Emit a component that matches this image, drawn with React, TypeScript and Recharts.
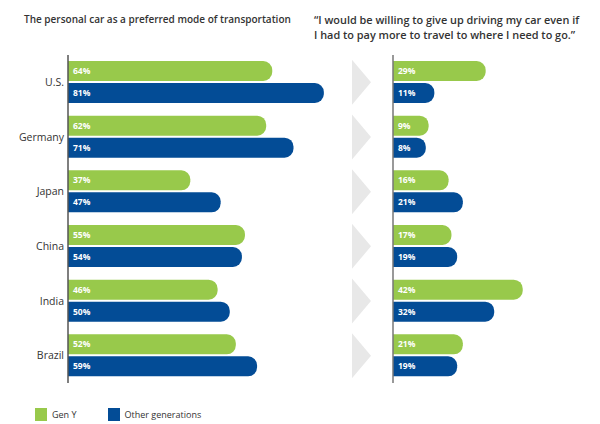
import React from 'react';
import { BarChart, Bar, XAxis, YAxis, LabelList } from 'recharts';

const countries = ['U.S.', 'Germany', 'Japan', 'China', 'India', 'Brazil'];
const preferGenY = [64, 62, 37, 55, 46, 52];
const preferOther = [81, 71, 47, 54, 50, 59];
const giveUpGenY = [29, 9, 16, 17, 42, 21];
const giveUpOther = [11, 8, 21, 19, 32, 19];

const GREEN = '#98c94b';
const BLUE = '#034c96';
const TEXT = '#333333';
const FONT = '"Open Sans", sans-serif';

const leftData = countries.map((c, i) => ({ country: c, genY: preferGenY[i], other: preferOther[i] }));
const rightData = countries.map((c, i) => ({ country: c, genY: giveUpGenY[i], other: giveUpOther[i] }));

// bar with rounded right end, drawn from the axis line
const RoundBar = (props: any) => {
  const { x, y, width, height, fill, background } = props;
  const x0 = background && background.x != null ? background.x : x;
  const x1 = x + width;
  const r = Math.min(9, height / 2, Math.max(0, x1 - x0));
  const d = `M${x0},${y} H${x1 - r} A${r},${r} 0 0 1 ${x1},${y + r} V${y + height - r} A${r},${r} 0 0 1 ${x1 - r},${y + height} H${x0} Z`;
  return <path d={d} fill={fill} />;
};

// grey arrow between the two panels, one per country
const Chevron = (props: any) => {
  const { x, y } = props;
  return <polygon points={`${x - 41},${y - 22.5} ${x - 22},${y} ${x - 41},${y + 22.5}`} fill="#e8e8e8" />;
};

const labelStyle = { fill: '#ffffff', fontSize: 8.5, fontWeight: 700, fontFamily: FONT };
const pct = (v: any) => `${v}%`;

export default function App() {
  return (
    <div style={{ position: 'absolute', left: 0, top: 0, width: 600, height: 424, background: '#fff', overflow: 'hidden', fontFamily: FONT }}>
      <div style={{ position: 'absolute', left: 24, top: 12, fontSize: 10, fontWeight: 600, color: TEXT, whiteSpace: 'nowrap' }}>
        The personal car as a preferred mode of transportation
      </div>
      <div style={{ position: 'absolute', left: 314, top: 12, width: 286, fontSize: 10.9, fontWeight: 600, color: TEXT, lineHeight: '15px', whiteSpace: 'nowrap' }}>
        “I would be willing to give up driving my car even if
        <br />
        I had to pay more to travel to where I need to go.”
      </div>

      <div style={{ position: 'absolute', left: 0, top: 0 }}>
        <BarChart width={380} height={424} data={leftData} layout="vertical" barSize={20} barGap={2}
          margin={{ top: 55, right: 0, left: 0, bottom: 41 }}>
          <XAxis type="number" domain={[-3.3, 99.5]} hide />
          <YAxis type="category" dataKey="country" width={68} tickLine={false} tickSize={0} tickMargin={4}
            axisLine={{ stroke: '#555', strokeWidth: 1.5 }}
            tick={{ fontSize: 10.5, fill: TEXT, fontFamily: FONT }} />
          <Bar dataKey="genY" fill={GREEN} shape={<RoundBar />} isAnimationActive={false}>
            <LabelList dataKey="genY" position="insideLeft" offset={-5} formatter={pct} style={labelStyle} />
          </Bar>
          <Bar dataKey="other" fill={BLUE} shape={<RoundBar />} isAnimationActive={false}>
            <LabelList dataKey="other" position="insideLeft" offset={-5} formatter={pct} style={labelStyle} />
          </Bar>
        </BarChart>
      </div>

      <div style={{ position: 'absolute', left: 330, top: 0 }}>
        <BarChart width={270} height={424} data={rightData} layout="vertical" barSize={20} barGap={2}
          margin={{ top: 55, right: 0, left: 0, bottom: 41 }}>
          <XAxis type="number" domain={[-3.5, 69.1]} hide />
          <YAxis type="category" dataKey="country" width={63} tickLine={false} tickSize={0} tickMargin={0}
            axisLine={{ stroke: '#777', strokeWidth: 1.5 }}
            tick={<Chevron />} />
          <Bar dataKey="genY" fill={GREEN} shape={<RoundBar />} isAnimationActive={false}>
            <LabelList dataKey="genY" position="insideLeft" offset={-5} formatter={pct} style={labelStyle} />
          </Bar>
          <Bar dataKey="other" fill={BLUE} shape={<RoundBar />} isAnimationActive={false}>
            <LabelList dataKey="other" position="insideLeft" offset={-5} formatter={pct} style={labelStyle} />
          </Bar>
        </BarChart>
      </div>

      <div style={{ position: 'absolute', left: 35, top: 408, display: 'flex', alignItems: 'center', fontSize: 9, color: TEXT }}>
        <span style={{ width: 12, height: 13, background: GREEN, display: 'inline-block', marginRight: 5 }} />
        <span style={{ marginRight: 31 }}>Gen Y</span>
        <span style={{ width: 12, height: 13, background: BLUE, display: 'inline-block', marginRight: 5 }} />
        <span>Other generations</span>
      </div>
    </div>
  );
}
